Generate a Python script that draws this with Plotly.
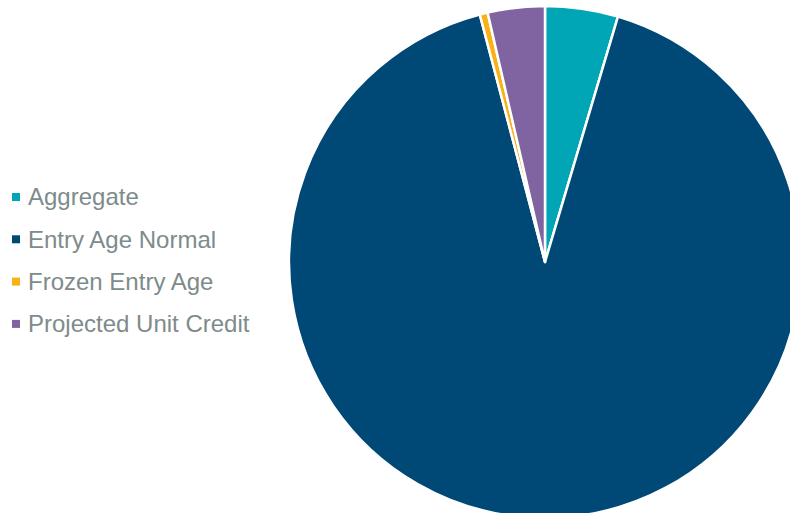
import plotly.graph_objects as go

labels = ["Aggregate", "Entry Age Normal", "Frozen Entry Age", "Projected Unit Credit"]
values = [4.6, 91.3, 0.5, 3.6]
colors = ["#00A6B6", "#004875", "#F9B215", "#8064A2"]

W, H = 810, 524
cx, cy, r = 545, 262, 256

fig = go.Figure(go.Pie(
    labels=labels,
    values=values,
    sort=False,
    direction="clockwise",
    rotation=0,
    marker=dict(colors=colors, line=dict(color="white", width=2.5)),
    textinfo="none",
    hoverinfo="label+percent",
    showlegend=False,
    domain=dict(x=[(cx - r) / W, (cx + r) / W], y=[0, 1]),
))

annotations = []
shapes = []
y0 = 197
gap = 42.3
for i, (lab, col) in enumerate(zip(labels, colors)):
    yp = y0 + i * gap
    shapes.append(dict(type="rect", xref="paper", yref="paper",
                       x0=12 / W, x1=20 / W,
                       y0=1 - (yp + 4) / H, y1=1 - (yp - 4) / H,
                       fillcolor=col, line=dict(width=0)))
    annotations.append(dict(text=lab, xref="paper", yref="paper",
                            x=26 / W, y=1 - yp / H, xanchor="left", yanchor="middle",
                            showarrow=False,
                            font=dict(family="Liberation Sans, Arial", size=24, color="#7E8B8B")))

fig.update_layout(
    width=W, height=H,
    margin=dict(l=0, r=0, t=0, b=0),
    paper_bgcolor="white",
    plot_bgcolor="white",
    annotations=annotations,
    shapes=shapes,
)

fig.write_html("out.html")
